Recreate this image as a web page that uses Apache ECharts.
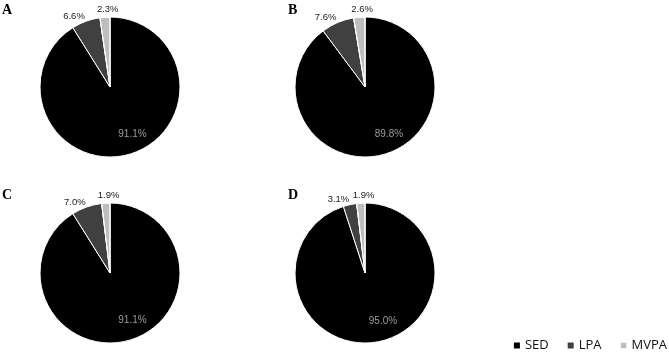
<!DOCTYPE html>
<html>
<head>
<meta charset="utf-8">
<script src="https://cdn.jsdelivr.net/npm/echarts@6/dist/echarts.min.js"></script>
<style>
  html, body { margin: 0; padding: 0; background: #fff; }
  #chart { width: 669px; height: 354px; }
</style>
</head>
<body>
<div id="chart"></div>
<script>
const panels = ["A", "B", "C", "D"];
const categories = ["SED", "LPA", "MVPA"];
const sedValues = [91.1, 89.8, 91.1, 95.0];
const lpaValues = [6.6, 7.6, 7.0, 3.1];
const mvpaValues = [2.3, 2.6, 1.9, 1.9];

const colors = ["#000000", "#404040", "#bdbdbd"];
const centers = [[110, 87], [365, 87], [110, 273], [365, 273]];
const letterPos = [[2, 3], [288, 3], [2, 188], [288, 188]];

const chart = echarts.init(document.getElementById("chart"));

const series = panels.map((p, i) => ({
  name: p,
  type: "pie",
  center: centers[i],
  radius: 70,
  startAngle: 90,
  clockwise: true,
  avoidLabelOverlap: false,
  itemStyle: { borderColor: "#fff", borderWidth: 1 },
  label: {
    position: "outside",
    formatter: (d) => d.value.toFixed(1) + "%",
    fontFamily: "Liberation Sans",
    fontSize: 9.5,
    color: "#1a1a1a",
    distanceToLabelLine: 0,
  },
  labelLine: { show: false, length: 3, length2: 0 },
  labelLayout: (params) => {
    // small slices: center the MVPA label above its sector, nudge LPA up
    if (params.dataIndex === 2) {
      return { align: "center", dx: 3, dy: -5, hideOverlap: false };
    }
    if (params.dataIndex === 1) {
      return { dy: -2, hideOverlap: false };
    }
    return { hideOverlap: false };
  },
  emphasis: { disabled: true },
  data: [
    {
      name: categories[0],
      value: sedValues[i],
      itemStyle: { color: colors[0] },
      label: { position: "inside", color: "#9a9a9a", fontSize: 10, offset: [12, 11] },
    },
    { name: categories[1], value: lpaValues[i], itemStyle: { color: colors[1] } },
    {
      name: categories[2],
      value: mvpaValues[i],
      itemStyle: {
        color: colors[2],
        decal: {
          symbol: "rect",
          symbolSize: 0.5,
          color: "rgba(255,255,255,0.45)",
          dashArrayX: [1, 2],
          dashArrayY: [1, 2],
          rotation: 0,
        },
      },
    },
  ],
}));

const option = {
  animation: false,
  title: panels.map((p, i) => ({
    text: p,
    left: letterPos[i][0],
    top: letterPos[i][1],
    padding: 0,
    textStyle: {
      fontFamily: "Liberation Serif",
      fontWeight: "bold",
      fontSize: 14,
      color: "#000",
    },
  })),
  legend: {
    data: categories,
    right: 2,
    top: 339,
    padding: 0,
    icon: "rect",
    itemWidth: 8,
    itemHeight: 8,
    itemGap: 17,
    textStyle: { fontFamily: "Open Sans", fontSize: 13, color: "#111", padding: [0, 0, 0, -1] },
    selectedMode: false,
  },
  series: series,
};

chart.setOption(option);
</script>
</body>
</html>
